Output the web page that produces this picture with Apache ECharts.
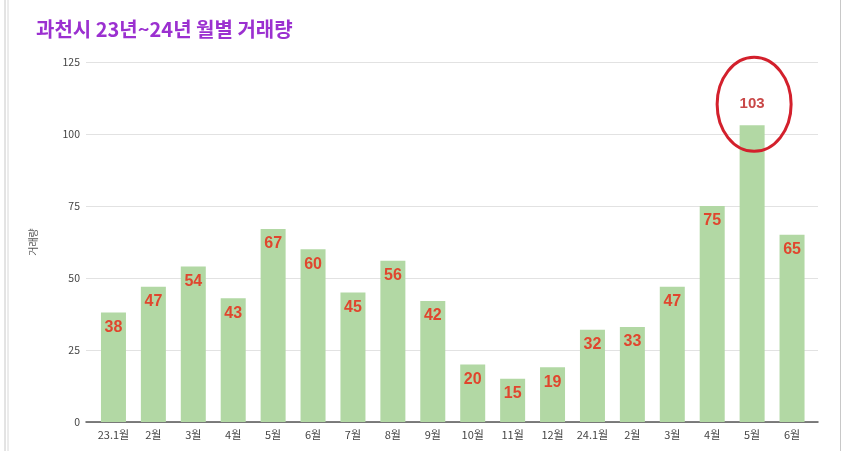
<!DOCTYPE html>
<html><head><meta charset="utf-8">
<script src="https://cdn.jsdelivr.net/npm/echarts@6/dist/echarts.min.js"></script>
<style>html,body{margin:0;padding:0;background:#fff}#c{width:850px;height:451px}</style>
</head><body><div id="c"></div>
<script>
const categories = ['23.1월','2월','3월','4월','5월','6월','7월','8월','9월','10월','11월','12월','24.1월','2월','3월','4월','5월','6월'];
const values = [38,47,54,43,67,60,45,56,42,20,15,19,32,33,47,75,103,65];
const yTicks = [0,25,50,75,100,125];
const highlightIndex = 16;

const chart = echarts.init(document.getElementById('c'), null, {renderer:'canvas'});
const font = '"Noto Sans CJK KR", "Noto Sans", sans-serif';
const barData = values.map((v,i)=>{
  if(i===highlightIndex){
    return {value:v, label:{position:'top', distance:14, color:'#c94848', fontSize:15}};
  }
  return v;
});
chart.setOption({
  backgroundColor:'#fff',
  animation:false,
  title:{text:'과천시 23년~24년 월별 거래량', left:31, top:14,
    textStyle:{color:'#9b30d0', fontSize:20, fontWeight:'bold', fontFamily:font}},
  grid:[
    {left:86, right:32, top:62, bottom:29},
    {left:93.5, right:38, top:62, bottom:29}
  ],
  xAxis:[
    {type:'value', gridIndex:0, min:0, max:1, show:true, axisLabel:{show:false}, axisTick:{show:false},
      splitLine:{show:false}, axisLine:{show:true, onZero:false, lineStyle:{color:'#555', width:1.5}}},
    {type:'category', gridIndex:1, data:categories, axisLine:{show:false}, axisTick:{show:false},
      axisLabel:{color:'#444', fontSize:11, margin:7, fontFamily:font, interval:0}}
  ],
  yAxis:[
    {type:'value', gridIndex:0, min:yTicks[0], max:yTicks[yTicks.length-1], interval:25,
      name:'거래량', nameLocation:'middle', nameGap:48, nameRotate:90,
      nameTextStyle:{color:'#555', fontSize:10, fontFamily:font},
      axisLine:{show:false}, axisTick:{show:false},
      axisLabel:{color:'#444', fontSize:10.5, margin:6, fontFamily:font},
      splitLine:{lineStyle:{color:'#e2e2e2', width:1}}},
    {type:'value', gridIndex:1, min:0, max:125, show:false}
  ],
  series:[{
    type:'bar', xAxisIndex:1, yAxisIndex:1, data:barData, barWidth:25,
    itemStyle:{color:'#b2d8a4'},
    label:{show:true, position:'insideTop', distance:7, color:'#e0462e', fontSize:16,
      fontWeight:'bold', fontFamily:'"Liberation Sans", Arial, sans-serif'},
    z:3
  }]
});
const p = chart.convertToPixel({xAxisIndex:1, yAxisIndex:1}, [highlightIndex, values[highlightIndex]]);
chart.setOption({
  graphic:[
    {type:'line', shape:{x1:5,y1:0,x2:5,y2:451}, style:{stroke:'#c8c8c8', lineWidth:1}},
    {type:'line', shape:{x1:8,y1:0,x2:8,y2:451}, style:{stroke:'#d8d8d8', lineWidth:1}},
    {type:'line', shape:{x1:840.5,y1:0,x2:840.5,y2:451}, style:{stroke:'#c8c8c8', lineWidth:1}},
    {type:'ellipse', shape:{cx:p[0]+2, cy:p[1]-21, rx:37, ry:47}, style:{fill:null, stroke:'#d3202c', lineWidth:3}, z:10}
  ]
});
</script></body></html>
